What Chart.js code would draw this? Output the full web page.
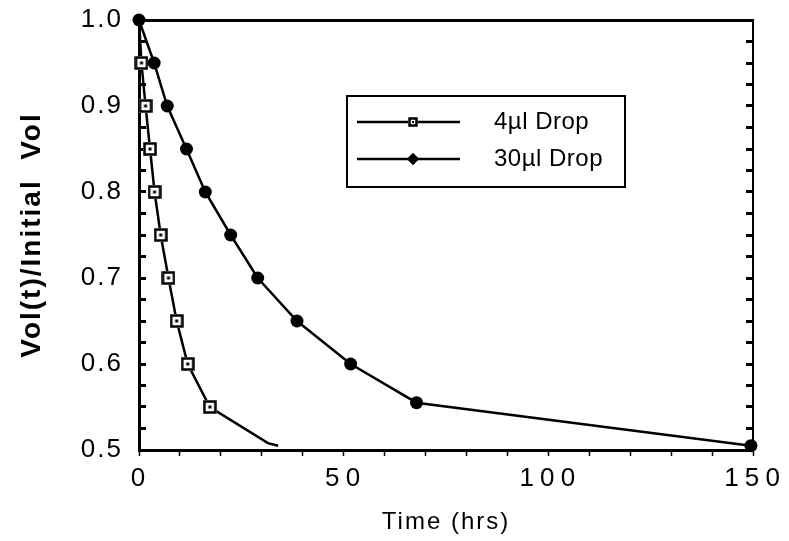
<!DOCTYPE html>
<html>
<head>
<meta charset="utf-8">
<script src="https://cdn.jsdelivr.net/npm/chart.js@4.4.1/dist/chart.umd.min.js"></script>
<style>
  html, body { margin: 0; padding: 0; background: #fff; }
  #wrap { width: 789px; height: 541px; }
</style>
</head>
<body>
<div id="wrap"><canvas id="chart"></canvas></div>
<script>
// 4ul drop (open squares), last two points are the tail with no marker
const time4 = [0, 0.6, 1.6, 2.7, 3.8, 5.3, 7.2, 9.2, 11.9, 17.3, 31.5, 34];
const vol4 = [1.0, 0.95, 0.9, 0.85, 0.8, 0.75, 0.7, 0.65, 0.6, 0.55, 0.508, 0.505];
// 30ul drop (filled circles)
const time30 = [0, 3.7, 6.9, 11.6, 16.2, 22.4, 29.0, 38.6, 51.7, 67.8, 149.5];
const vol30 = [1.0, 0.95, 0.9, 0.85, 0.8, 0.75, 0.7, 0.65, 0.6, 0.555, 0.505];
const seriesLabels = ["4\u00b5l Drop", "30\u00b5l Drop"];
const xTicks = [0, 50, 100, 150];
const yTicks = [0.5, 0.6, 0.7, 0.8, 0.9, 1.0];

const FONT = '"Liberation Sans", Arial, Helvetica, sans-serif';

// open square with a dot in the middle
function squareDot(size) {
  const c = document.createElement("canvas");
  c.width = c.height = size;
  const g = c.getContext("2d");
  g.fillStyle = "#fff";
  g.fillRect(0, 0, size, size);
  g.lineWidth = 2.5;
  g.strokeStyle = "#000";
  g.strokeRect(1.5, 1.5, size - 3, size - 3);
  g.fillStyle = "#000";
  const d = Math.max(2, Math.round(size / 5));
  g.fillRect((size - d) / 2, (size - d) / 2, d, d);
  return c;
}
const squareMark = squareDot(14);
const squareLegend = squareDot(10);

const toPoints = (xs, ys) => xs.map((x, i) => ({ x: x, y: ys[i] }));

// legend box + letter spacing for axis text
const extras = {
  id: "extras",
  beforeDraw(chart) {
    chart.ctx.letterSpacing = "2px";
  },
  beforeDatasetsDraw(chart) {
    chart.ctx.letterSpacing = "0px";
  },
  afterDraw(chart) {
    const ctx = chart.ctx;
    ctx.save();
    ctx.letterSpacing = "0.5px";
    ctx.strokeStyle = "#000";
    ctx.lineWidth = 2;
    ctx.strokeRect(347, 96, 278, 91);
    const rows = [122, 159];
    rows.forEach((y, i) => {
      ctx.lineWidth = 2.5;
      ctx.beginPath();
      ctx.moveTo(357, y);
      ctx.lineTo(460, y);
      ctx.stroke();
      if (i === 0) {
        ctx.drawImage(squareLegend, 413 - 5, y - 5);
      } else {
        Chart.helpers.drawPoint(ctx, { pointStyle: "rectRot", radius: 6, rotation: 0 }, 413, y);
        ctx.fillStyle = "#000";
        ctx.fill();
      }
      ctx.fillStyle = "#000";
      ctx.font = "24px " + FONT;
      ctx.textBaseline = "middle";
      ctx.textAlign = "left";
      ctx.fillText(seriesLabels[i], 494, y);
    });
    ctx.restore();
  }
};

new Chart(document.getElementById("chart"), {
  type: "scatter",
  data: {
    datasets: [
      {
        label: seriesLabels[0],
        data: toPoints(time4, vol4),
        showLine: true,
        borderColor: "#000",
        borderWidth: 2.5,
        pointStyle: squareMark,
        pointRadius: (c) => (c.dataIndex === 0 || c.dataIndex >= time4.length - 2 ? 0 : 7),
        clip: false,
        order: 2
      },
      {
        label: seriesLabels[1],
        data: toPoints(time30, vol30),
        showLine: true,
        borderColor: "#000",
        backgroundColor: "#000",
        borderWidth: 2.5,
        pointStyle: "circle",
        pointRadius: 6.5,
        pointBorderWidth: 0,
        clip: false,
        order: 1
      }
    ]
  },
  options: {
    responsive: true,
    maintainAspectRatio: false,
    animation: false,
    layout: { padding: { top: 20, right: 36, bottom: 0, left: 0 } },
    plugins: { legend: { display: false }, tooltip: { enabled: false } },
    scales: {
      x: {
        type: "linear",
        position: "bottom",
        min: 0,
        max: 150,
        afterFit: (s) => { s.height = 91; s.paddingLeft = 0; s.paddingRight = 0; },
        ticks: {
          stepSize: 10,
          autoSkip: false,
          maxRotation: 0,
          padding: 7,
          color: "#000",
          font: { family: FONT, size: 26 },
          callback: (v) => (xTicks.includes(v) ? String(v).split("").join("\u200a") : "")
        },
        grid: { drawOnChartArea: false, drawTicks: true, tickLength: 6, tickColor: "#000", tickWidth: 1.5 },
        border: { display: true, color: "#000", width: 3 },
        title: {
          display: true,
          text: "Time (hrs)",
          color: "#000",
          font: { family: FONT, size: 24 },
          padding: { top: 0, bottom: 4 }
        }
      },
      x2: {
        type: "linear",
        position: "top",
        min: 0,
        max: 150,
        afterFit: (s) => { s.height = 0; s.paddingLeft = 0; s.paddingRight = 0; },
        ticks: { display: false },
        grid: { drawOnChartArea: false, drawTicks: false },
        border: { display: true, color: "#000", width: 3 }
      },
      y: {
        type: "linear",
        position: "left",
        min: 0.5,
        max: 1.0,
        afterFit: (s) => { s.width = 139; s.paddingTop = 0; s.paddingBottom = 0; },
        ticks: {
          stepSize: 0.025,
          autoSkip: false,
          padding: 23,
          color: "#000",
          font: { family: FONT, size: 26 },
          callback: (v) => {
            const t = yTicks.find((k) => Math.abs(k - v) < 1e-6);
            return t === undefined ? "" : t.toFixed(1);
          }
        },
        grid: { drawOnChartArea: false, drawTicks: true, tickLength: -7, tickColor: "#000", tickWidth: 3 },
        border: { display: true, color: "#000", width: 3 },
        title: {
          display: true,
          text: "Vol(t)/Initial  Vol",
          color: "#000",
          font: { family: FONT, size: 28, weight: "bold" },
          padding: { top: 15, bottom: 0 }
        }
      },
      y2: {
        type: "linear",
        position: "right",
        min: 0.5,
        max: 1.0,
        afterFit: (s) => { s.width = 0; s.paddingTop = 0; s.paddingBottom = 0; },
        ticks: { display: false, stepSize: 0.025, autoSkip: false },
        grid: { drawOnChartArea: false, drawTicks: true, tickLength: -7, tickColor: "#000", tickWidth: 3 },
        border: { display: true, color: "#000", width: 2 }
      }
    }
  },
  plugins: [extras]
});
</script>
</body>
</html>
